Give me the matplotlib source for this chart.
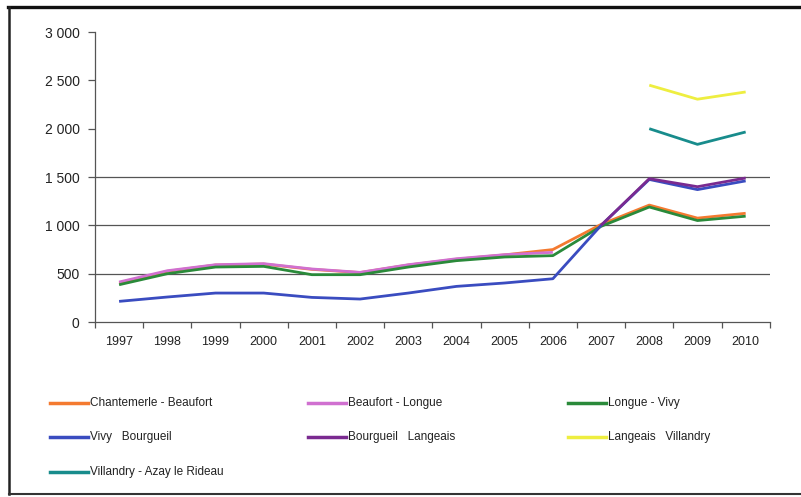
import matplotlib.pyplot as plt
from matplotlib.ticker import FuncFormatter, FixedLocator

plt.rcParams['font.family'] = ['Liberation Sans', 'DejaVu Sans']

years = ['1997', '1998', '1999', '2000', '2001', '2002', '2003',
         '2004', '2005', '2006', '2007', '2008', '2009', '2010']

# Annual traffic per section (None = no count that year)
chantemerle_beaufort = [405, 525, 590, 600, 545, 512, 590, 650, 695, 750, 1010, 1210, 1075, 1125]
beaufort_longue = [414, 531, 593, 604, 549, 514, 593, 655, 697, 721, None, None, None, None]
longue_vivy = [386, 500, 569, 576, 490, 490, 569, 635, 673, 687, 990, 1190, 1050, 1095]
vivy_bourgueil = [214, 259, 300, 300, 255, 238, 300, 369, 404, 448, 1000, 1475, 1370, 1460]
bourgueil_langeais = [None] * 10 + [1000, 1483, 1400, 1490]
langeais_villandry = [None] * 11 + [2450, 2305, 2380]
villandry_azay = [None] * 11 + [2000, 1838, 1966]

series = [
    ('Chantemerle - Beaufort', chantemerle_beaufort, '#f47a30'),
    ('Beaufort - Longue', beaufort_longue, '#d070d0'),
    ('Longue - Vivy', longue_vivy, '#2a8a3a'),
    ('Vivy   Bourgueil', vivy_bourgueil, '#3a4cc0'),
    ('Bourgueil   Langeais', bourgueil_langeais, '#7a2a90'),
    ('Langeais   Villandry', langeais_villandry, '#eeee40'),
    ('Villandry - Azay le Rideau', villandry_azay, '#188c8c'),
]

W, H = 801, 497
fig = plt.figure(figsize=(W / 100, H / 100), dpi=100)
ax = fig.add_axes([0.1186, 0.352, 0.8424, 0.5836])

x = list(range(len(years)))
handles = []
for name, vals, color in series:
    xs = [i for i, v in zip(x, vals) if v is not None]
    ys = [v for v in vals if v is not None]
    h, = ax.plot(xs, ys, color=color, lw=2.0, label=name, solid_capstyle='butt')
    handles.append(h)

ax.set_xlim(-0.5, 13.5)
ax.set_ylim(0, 3000)

# gridlines at the lower levels only
for g in (500, 1000, 1500):
    ax.axhline(g, color='#555555', lw=0.9, zorder=0)

ax.set_yticks(range(0, 3001, 500))
ax.yaxis.set_major_formatter(FuncFormatter(lambda v, p: f'{int(v):,}'.replace(',', ' ')))
ax.tick_params(axis='y', length=5, width=0.9, color='#555555', labelsize=10,
               pad=6, labelcolor='#222222')

ax.xaxis.set_major_locator(FixedLocator([i - 0.5 for i in range(15)]))
ax.xaxis.set_major_formatter(FuncFormatter(lambda v, p: ''))
ax.xaxis.set_minor_locator(FixedLocator(x))
ax.set_xticklabels(years, minor=True)
ax.tick_params(axis='x', which='major', length=4, width=0.9, color='#555555')
ax.tick_params(axis='x', which='minor', length=0, labelsize=9, pad=10,
               labelcolor='#222222')

for s in ('top', 'right'):
    ax.spines[s].set_visible(False)
for s in ('left', 'bottom'):
    ax.spines[s].set_color('#555555')
    ax.spines[s].set_linewidth(0.9)

# legend laid out in three columns below the plot
col_x = [50, 308, 568]
row_y = [403, 437, 472]
for k, (name, _, color) in enumerate(series):
    cx = col_x[k % 3]
    cy = row_y[k // 3]
    fig.lines.append(plt.Line2D([cx / W, (cx + 38) / W], [1 - cy / H, 1 - cy / H],
                                color=color, lw=2.5, transform=fig.transFigure))
    fig.text((cx + 40) / W, 1 - cy / H, name, fontsize=8.5, va='center',
             ha='left', color='#222222')

# outer frame (open on the right)
fr = fig.transFigure
fig.lines.append(plt.Line2D([8 / W, 1.0], [1 - 6.5 / H, 1 - 6.5 / H],
                            color='#111111', lw=2.4, transform=fr))
fig.lines.append(plt.Line2D([9 / W, 9 / W], [1 - 6.5 / H, 1 - 494 / H],
                            color='#222222', lw=1.8, transform=fr))
fig.lines.append(plt.Line2D([9 / W, 1.0], [1 - 494 / H, 1 - 494 / H],
                            color='#333333', lw=1.5, transform=fr))

fig.savefig('out.png', dpi=100)
